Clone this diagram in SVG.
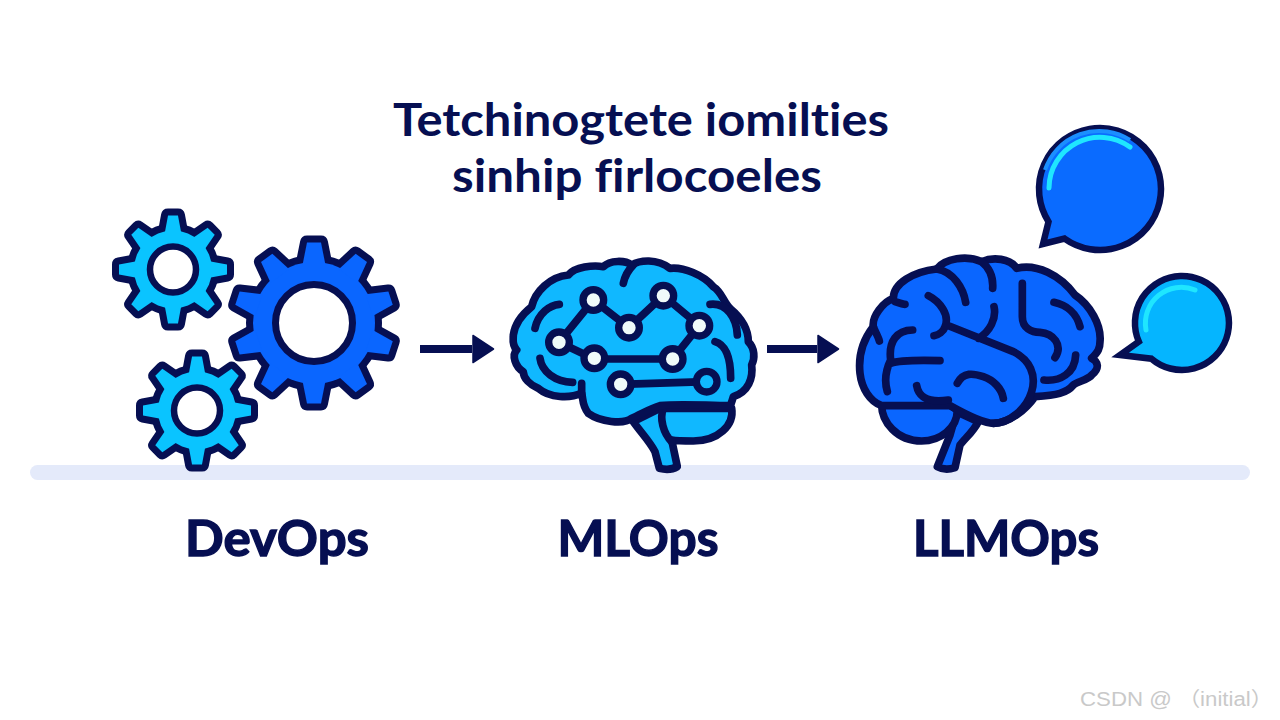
<svg xmlns="http://www.w3.org/2000/svg" xmlns:xlink="http://www.w3.org/1999/xlink" width="1280" height="720" viewBox="0 0 1280 720">
<style>
.ttl{font-family:"Lato","Liberation Sans",sans-serif;font-weight:700;font-size:46px;fill:#060f52;text-anchor:middle;font-variant-ligatures:none}
.lbl{font-family:"Lato","Liberation Sans",sans-serif;font-weight:700;font-size:50px;fill:#060f52;stroke:#060f52;stroke-width:1.4;text-anchor:middle;font-variant-ligatures:none}
.wm{font-family:"Liberation Sans","Noto Sans CJK SC",sans-serif;font-size:20px;fill:#c9c9c9}
.ln{fill:none;stroke:#060f52;stroke-width:23;stroke-linecap:round;stroke-linejoin:round}
.ol{stroke:#060f52;stroke-width:23;stroke-linejoin:round;stroke-linecap:round}
.node{fill:#f0fafa;stroke:#060f52;stroke-width:22}
.hole{fill:#fff;stroke:#060f52}
.gout{fill:#060f52;stroke:#060f52;stroke-width:14;stroke-linejoin:round}
.bub{stroke:#060f52;stroke-width:6.5;stroke-linejoin:miter}
.hl{fill:none;stroke:#1fe6ff;stroke-width:5;stroke-linecap:round}
.arr{stroke:#060f52;stroke-width:8;fill:none;marker-end:url(#head)}
</style>
<defs>
<marker id="head" markerUnits="userSpaceOnUse" markerWidth="24" markerHeight="32" refX="1" refY="16" orient="auto"><path d="M2 2.500L22.500 16L2 29.500Z" fill="#060f52" stroke="#060f52" stroke-width="1.500" stroke-linejoin="round"/></marker>
<path id="t8" d="M-8.500 -35L-5 -54H5L8.500 -35Z"/>
<g id="g8"><circle r="39"/><use xlink:href="#t8"/><use xlink:href="#t8" transform="rotate(45)"/><use xlink:href="#t8" transform="rotate(90)"/><use xlink:href="#t8" transform="rotate(135)"/><use xlink:href="#t8" transform="rotate(180)"/><use xlink:href="#t8" transform="rotate(225)"/><use xlink:href="#t8" transform="rotate(270)"/><use xlink:href="#t8" transform="rotate(315)"/></g>
<path id="t10" d="M-11.500 -58L-7 -80.500H7L11.500 -58Z"/>
<g id="g10"><circle r="61"/><use xlink:href="#t10"/><use xlink:href="#t10" transform="rotate(36)"/><use xlink:href="#t10" transform="rotate(72)"/><use xlink:href="#t10" transform="rotate(108)"/><use xlink:href="#t10" transform="rotate(144)"/><use xlink:href="#t10" transform="rotate(180)"/><use xlink:href="#t10" transform="rotate(216)"/><use xlink:href="#t10" transform="rotate(252)"/><use xlink:href="#t10" transform="rotate(288)"/><use xlink:href="#t10" transform="rotate(324)"/></g>
</defs>
<rect width="1280" height="720" fill="#fff"/>
<rect id="ground" x="30" y="465" width="1220" height="15" rx="7.500" fill="#e4eafa"/>
<g id="title"><text class="ttl" x="641" y="136" textLength="496" lengthAdjust="spacingAndGlyphs">Tetchinogtete iomilties</text><text class="ttl" x="637" y="192" textLength="370" lengthAdjust="spacingAndGlyphs">sinhip firlocoeles</text></g>
<g id="gear-small-top" transform="translate(173 269.500)"><use xlink:href="#g8" class="gout"/><use xlink:href="#g8" fill="#0ac4ff"/><circle class="hole" r="23" stroke-width="6.500"/></g>
<g id="gear-small-bottom" transform="translate(197 410.500)"><use xlink:href="#g8" class="gout"/><use xlink:href="#g8" fill="#0ac4ff"/><circle class="hole" r="23" stroke-width="6.500"/></g>
<g id="gear-big" transform="translate(314 323)"><use xlink:href="#g10" class="gout"/><use xlink:href="#g10" fill="#0a66ff"/><circle class="hole" r="38.500" stroke-width="7"/></g>
<g id="brain-ml" transform="translate(500 245) scale(.33333)">
<path class="ol" fill="#10b8ff" d="M515 585L532 665Q510 678 478 670L465 620C450 590 425 565 400 530L480 490H695C703 540 655 588 580 588C555 588 530 588 515 585Z"/>
<path class="ln" d="M490 490C478 520 490 565 515 590"/>
<path class="ol" fill="#10b8ff" d="M40 270C45 230 70 205 95 185C105 140 150 95 205 90C225 65 280 60 310 65C330 45 375 45 395 60C420 45 470 40 510 70C550 65 610 90 640 125C665 140 670 170 690 190C720 215 745 250 745 290C765 310 765 340 755 360C760 400 745 440 700 455C695 470 695 475 690 482C620 482 540 475 480 482C450 490 420 510 395 520C370 540 300 530 265 505C245 480 250 460 245 445C210 460 150 460 115 430C90 420 70 400 70 380C45 365 35 330 50 315C35 300 40 280 40 270Z"/>
<path class="ln" d="M370 115C375 90 385 75 400 60M178 178C150 180 115 205 105 250M120 340C125 380 165 410 218 412M245 415V445M630 178C680 172 710 220 712 270M645 290C680 300 692 340 692 400"/>
<path class="ln" d="M177 292L280 165L387 248L490 152L598 242L518 342H283L177 292M362 418L620 410"/>
<circle class="node" cx="280" cy="165" r="31"/><circle class="node" cx="387" cy="248" r="31"/><circle class="node" cx="490" cy="152" r="31"/><circle class="node" cx="598" cy="242" r="31"/><circle class="node" cx="177" cy="292" r="31"/><circle class="node" cx="283" cy="340" r="31"/><circle class="node" cx="518" cy="342" r="31"/><circle class="node" cx="362" cy="418" r="31"/><circle class="node" cx="620" cy="410" r="31" style="fill:#10b8ff"/>
</g>
<g id="brain-llm" transform="translate(850 245) scale(.33333)">
<path class="ol" fill="#0a66ff" d="M300 570L262 665Q285 678 315 668L330 600C345 580 370 560 385 530L320 500Z"/>
<path class="ol" fill="#0a66ff" d="M95 480C95 530 140 588 215 588C270 588 322 550 322 495L300 480Z"/>
<path class="ol" fill="#0a66ff" d="M30 385C25 340 35 290 70 245C65 215 100 170 130 160C130 115 190 80 260 72C285 40 350 30 395 50C430 35 480 40 500 70C560 55 630 90 675 150C720 180 755 240 750 290C750 310 745 320 725 340C745 350 750 370 725 390C715 405 680 410 670 420C650 445 620 450 555 455C530 490 480 535 430 535C400 535 350 510 300 482H95C60 470 35 430 30 385Z"/>
<path class="ln" d="M290 240L490 320C540 345 560 390 545 440C530 490 480 535 430 535M260 72C310 80 340 130 347 172M395 50C420 70 430 100 428 130M135 170C150 175 160 178 165 178M235 152C270 170 300 210 285 245C280 260 265 270 252 272M432 185C440 220 420 260 385 280M517 115V215C517 250 545 262 570 262C610 265 640 300 615 338M612 172C650 180 680 205 690 245M70 245C75 260 85 275 88 288M188 255C140 255 115 290 122 345C110 370 100 400 112 440M122 355C150 345 200 345 270 347M200 422C205 450 225 475 295 465M322 415C340 380 370 385 400 395C430 405 455 430 460 460M582 405C630 410 675 385 677 330"/>
</g>
<g id="bubble-large"><path class="bub" fill="#0a6bff" d="M1048.500 221.700A61 61 0 1 1 1064.500 238.600L1043 244Z"/><path fill="none" stroke="#1b8fff" stroke-width="4" d="M1045 170A57 57 0 0 1 1130 140"/><path class="hl" d="M1049 188A51 51 0 0 1 1130 147"/></g>
<g id="bubble-small"><path class="bub" fill="#05b5ff" d="M1138.800 341.600A47 47 0 1 1 1151.400 358.700L1120 355Z"/><path class="hl" d="M1146 330A36 36 0 0 1 1195 290"/></g>
<g id="connectors"><path class="arr" d="M420 349H472"/><path class="arr" d="M767 349H817"/></g>
<g id="labels"><text class="lbl" x="277" y="556" textLength="184" lengthAdjust="spacingAndGlyphs">DevOps</text><text class="lbl" x="638" y="556" textLength="161" lengthAdjust="spacingAndGlyphs">MLOps</text><text class="lbl" x="1006" y="556" textLength="186" lengthAdjust="spacingAndGlyphs">LLMOps</text></g>
<text class="wm" x="1080" y="706" textLength="193" lengthAdjust="spacingAndGlyphs">CSDN @ （initial）</text>
</svg>
